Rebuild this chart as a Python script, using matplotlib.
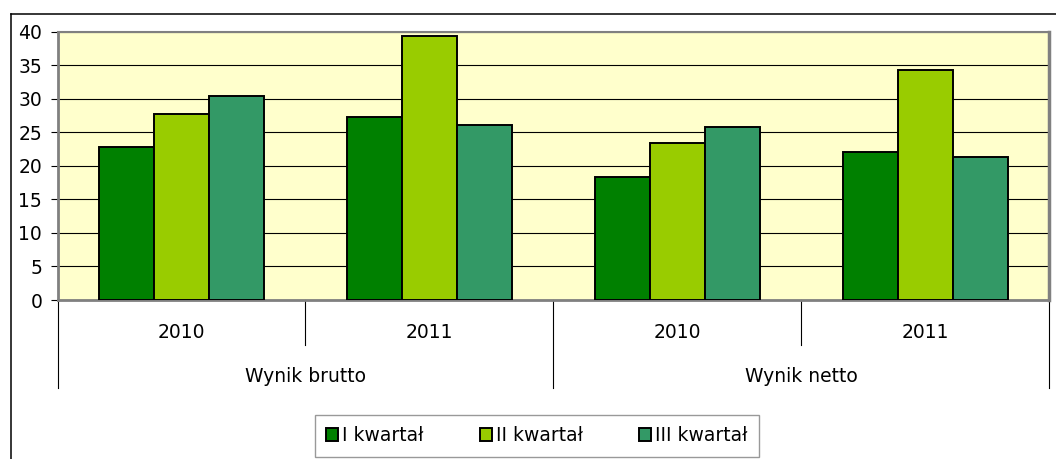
import matplotlib
matplotlib.use('Agg')
import matplotlib.pyplot as plt
from matplotlib.patches import Patch
from matplotlib.lines import Line2D
import numpy as np

plt.rcParams['font.family'] = ['DejaVu Sans']

groups = ['Wynik brutto', 'Wynik netto']
years = ['2010', '2011', '2010', '2011']
series = ['I kwartał', 'II kwartał', 'III kwartał']
kw1 = [22.8, 27.25, 18.3, 22.0]
kw2 = [27.75, 39.4, 23.45, 34.2]
kw3 = [30.4, 26.0, 25.7, 21.3]
colors = ['#008000', '#99CC00', '#339966']

W, H = 1056, 459
fig = plt.figure(figsize=(W / 100, H / 100), dpi=100)
fig.patch.set_facecolor('white')

# plot area in pixels
x0, x1, ytop, ybot = 57.5, 1049.0, 31.5, 300.0
ax = fig.add_axes([x0 / W, 1 - ybot / H, (x1 - x0) / W, (ybot - ytop) / H])
ax.set_facecolor('#FFFFCC')

fs = 13.5
bw = 0.222
centers = np.arange(len(years)) + 0.5
for i, (vals, col) in enumerate(zip([kw1, kw2, kw3], colors)):
    ax.bar(centers + (i - 1) * bw, vals, width=bw, color=col,
           edgecolor='black', linewidth=1.4, zorder=3)

ax.set_xlim(0, 4)
ax.set_ylim(0, 40)
ax.set_yticks(np.arange(0, 41, 5))
ax.yaxis.grid(True, color='black', linewidth=0.8, zorder=0)
ax.set_axisbelow(True)
ax.tick_params(axis='y', direction='out', length=5, width=0.8, color='black',
               pad=6, labelsize=fs)
ax.set_xticks([])

for side, lw in [('left', 2.0), ('top', 1.5), ('right', 2.5), ('bottom', 2.0)]:
    ax.spines[side].set_color('#808080')
    ax.spines[side].set_linewidth(lw)

# multi-level category axis
tr = ax.get_xaxis_transform()
inner = -(345 - ybot) / (ybot - ytop)
outer = -(388 - ybot) / (ybot - ytop)
for xb in [1, 3]:
    ax.plot([xb, xb], [0, inner], color='black', lw=0.8, transform=tr, clip_on=False)
for xb in [0, 2, 4]:
    ax.plot([xb, xb], [0, outer], color='black', lw=0.8, transform=tr, clip_on=False)
ylab_year = -(332 - ybot) / (ybot - ytop)
ylab_grp = -(377 - ybot) / (ybot - ytop)
for c, y in zip(centers, years):
    ax.text(c, ylab_year, y, transform=tr, ha='center', va='center', fontsize=fs)
for k, g in enumerate(groups):
    ax.text(1 + 2 * k, ylab_grp, g, transform=tr, ha='center', va='center', fontsize=fs)

# legend
handles = [Patch(facecolor=c, edgecolor='black', linewidth=1.4) for c in colors]
leg = fig.legend(handles, series, ncol=3, loc='upper left',
                 bbox_to_anchor=(315 / W, 1 - 415 / H), borderaxespad=0,
                 fontsize=fs, frameon=True, fancybox=False,
                 handlelength=0.65, handleheight=0.65, handletextpad=0.2,
                 columnspacing=3.0, borderpad=0.6)
leg.get_frame().set_edgecolor('#808080')
leg.get_frame().set_linewidth(1.0)

# outer chart border (clipped at right and bottom)
fig.add_artist(Line2D([10.5 / W, 10.5 / W], [0, 1 - 13.5 / H], color='black', lw=1.1))
fig.add_artist(Line2D([10.5 / W, 1], [1 - 13.5 / H, 1 - 13.5 / H], color='black', lw=1.1))

fig.savefig('out.png', dpi=100)
